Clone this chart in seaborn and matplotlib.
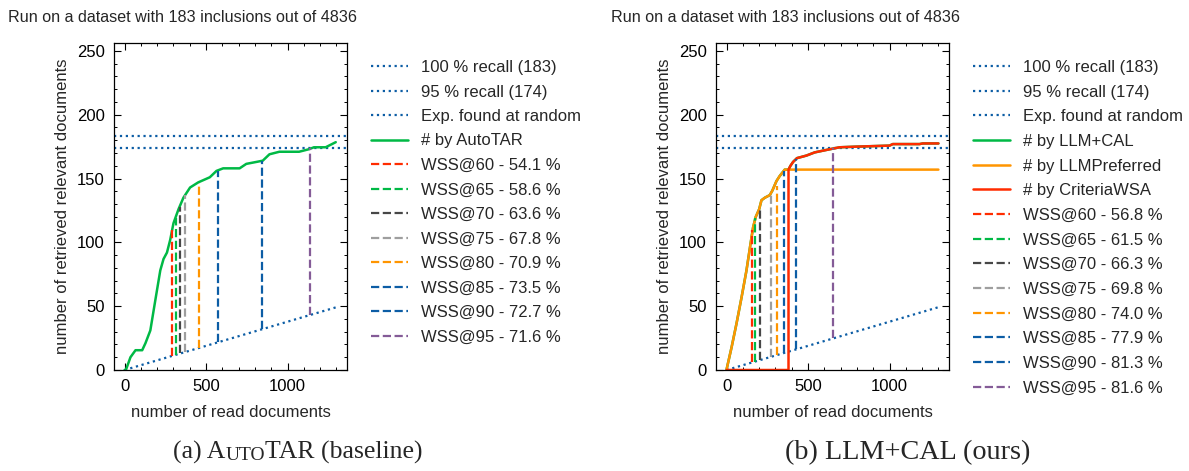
import matplotlib
matplotlib.use("Agg")
import matplotlib.pyplot as plt
import seaborn as sns
from matplotlib.ticker import MultipleLocator

# Data
n_relevant = 183
n_total = 4836
recall_100 = 183
recall_95 = 174

random_x = [0, 1300]
random_y = [0, 49.2]

# (a) AutoTAR baseline
autotar_x = [0, 8, 36, 67, 108, 128, 158, 189, 219, 239, 260, 280, 300, 331, 361, 402,
             452, 523, 564, 605, 706, 747, 808, 848, 889, 950, 1071, 1132, 1162, 1234, 1296]
autotar_y = [0, 0, 10, 15.5, 15.5, 21, 31, 55, 78, 87, 92, 102, 115, 126, 135, 143,
             147, 151, 156, 158, 158, 161.5, 163, 164, 169, 171, 171, 173, 174.5, 174.5, 178.5]

wss_labels_a = ["WSS@60 - 54.1 %", "WSS@65 - 58.6 %", "WSS@70 - 63.6 %", "WSS@75 - 67.8 %",
                "WSS@80 - 70.9 %", "WSS@85 - 73.5 %", "WSS@90 - 72.7 %", "WSS@95 - 71.6 %"]
wss_x_a = [294, 316, 341, 368, 458, 571, 845, 1136]
wss_low_a = [11, 12, 13, 14, 17.3, 21.6, 32, 43]
wss_high_a = [110, 119, 128, 137, 146.5, 156, 164, 174]

# (b) LLM+CAL (ours)
pref_x = [0, 31, 61, 92, 122, 147, 163, 179, 200, 214, 235, 265, 281, 306, 326, 357, 1300]
pref_y = [0.5, 18, 36.5, 57, 78, 99, 112, 120, 126, 133, 135, 137, 140.6, 148, 152, 157, 157]

crit_x = [0, 380, 380, 392, 408, 432, 490, 541, 612, 694, 796, 1000, 1020, 1184, 1204, 1300]
crit_y = [0, 0, 157, 160, 163, 166, 168, 170.5, 172.4, 174.5, 175, 175.8, 177, 177, 177.5, 177.5]

cal_x = [0, 31, 61, 92, 122, 147, 163, 179, 200, 214, 235, 265, 281, 306, 326, 357,
         380, 392, 408, 432, 490, 541, 612, 694, 796, 1000, 1020, 1184, 1204, 1300]
cal_y = [0.5, 18, 36.5, 57, 78, 99, 112, 120, 126, 133, 135, 137, 140.6, 148, 152, 157,
         157, 160, 163, 166, 168, 170.5, 172.4, 174.5, 175, 175.8, 177, 177, 177.5, 177.5]

wss_labels_b = ["WSS@60 - 56.8 %", "WSS@65 - 61.5 %", "WSS@70 - 66.3 %", "WSS@75 - 69.8 %",
                "WSS@80 - 74.0 %", "WSS@85 - 77.9 %", "WSS@90 - 81.3 %", "WSS@95 - 81.6 %"]
wss_x_b = [159, 173, 204, 271, 308, 353, 429, 652]
wss_low_b = [6, 6.5, 7.7, 10.3, 11.7, 13.4, 16.2, 24.7]
wss_high_b = [110, 119, 128, 137, 144, 156, 165, 174]

wss_colors = ["#FF2C00", "#00B945", "#474747", "#9e9e9e", "#FF9500", "#0C5DA5", "#0C5DA5", "#845B97"]
blue = "#0C5DA5"

sns.set_theme(style="ticks")
plt.rcParams['font.family'] = ['Liberation Sans', 'DejaVu Sans']
plt.rcParams['font.size'] = 12
plt.rcParams['axes.linewidth'] = 0.9
plt.rcParams['axes.edgecolor'] = 'black'
for a in ['x', 'y']:
    plt.rcParams[f'{a}tick.direction'] = 'in'
    plt.rcParams[f'{a}tick.major.size'] = 5
    plt.rcParams[f'{a}tick.minor.size'] = 2.5
    plt.rcParams[f'{a}tick.major.width'] = 0.8
    plt.rcParams[f'{a}tick.minor.width'] = 0.7
    plt.rcParams[f'{a}tick.major.pad'] = 6.5
    plt.rcParams[f'{a}tick.color'] = 'black'
    plt.rcParams[f'{a}tick.labelsize'] = 12
plt.rcParams['xtick.top'] = True
plt.rcParams['ytick.right'] = True

fig = plt.figure(figsize=(11.89, 4.71), dpi=100)
W, H = 1189, 471


def setup_panel(left_px):
    ax = fig.add_axes([left_px / W, 101 / H, 233 / W, 327 / H])
    ax.axhline(recall_100, color=blue, ls=':', lw=1.6, label=f"100 % recall ({recall_100})")
    ax.axhline(recall_95, color=blue, ls=':', lw=1.6, label=f"95 % recall ({recall_95})")
    sns.lineplot(x=random_x, y=random_y, ax=ax, color=blue, ls=':', lw=1.6,
                 label="Exp. found at random", estimator=None, sort=False)
    return ax


def finish_panel(ax, legend_px, spacing):
    ax.set_ylim(0, 1.4 * n_relevant)
    ax.set_xlim(-65, 1365)
    ax.xaxis.set_major_locator(MultipleLocator(500))
    ax.xaxis.set_minor_locator(MultipleLocator(100))
    ax.yaxis.set_major_locator(MultipleLocator(50))
    ax.yaxis.set_minor_locator(MultipleLocator(10))
    ax.tick_params(which='both', top=True, right=True, direction='in')
    ax.set_xlabel("number of read documents", fontsize=12, labelpad=8)
    ax.set_ylabel("number of retrieved relevant documents", fontsize=12, labelpad=5)
    ax.legend(loc='upper left', bbox_to_anchor=(legend_px / W, 1 - 60 / H),
              bbox_transform=fig.transFigure, frameon=False, borderaxespad=0,
              borderpad=0, handlelength=2.2, handletextpad=0.8,
              labelspacing=spacing, fontsize=12)


def draw_wss(ax, xs, lows, highs, labels):
    for x, lo, hi, lab, c in zip(xs, lows, highs, labels, wss_colors):
        ax.plot([x, x], [lo, hi], color=c, ls='--', lw=1.6, label=lab)


# panel (a)
ax1 = setup_panel(114)
sns.lineplot(x=autotar_x, y=autotar_y, ax=ax1, color="#00B945", lw=1.8,
             label="# by AutoTAR", estimator=None, sort=False)
draw_wss(ax1, wss_x_a, wss_low_a, wss_high_a, wss_labels_a)
finish_panel(ax1, 371, 0.57)

# panel (b)
ax2 = setup_panel(716)
sns.lineplot(x=cal_x, y=cal_y, ax=ax2, color="#00B945", lw=1.8,
             label="# by LLM+CAL", estimator=None, sort=False)
sns.lineplot(x=pref_x, y=pref_y, ax=ax2, color="#FF9500", lw=1.8,
             label="# by LLMPreferred", estimator=None, sort=False)
sns.lineplot(x=crit_x, y=crit_y, ax=ax2, color="#FF2C00", lw=1.8,
             label="# by CriteriaWSA", estimator=None, sort=False)
draw_wss(ax2, wss_x_b, wss_low_b, wss_high_b, wss_labels_b)
finish_panel(ax2, 973, 0.58)

# titles
title = f"Run on a dataset with {n_relevant} inclusions out of {n_total}"
fig.text(8 / W, 1 - 18 / H, title, fontsize=11.6, va='center', ha='left')
fig.text(611 / W, 1 - 18 / H, title, fontsize=11.6, va='center', ha='left')

# captions (serif, small caps for AutoTAR)
serif = ['Liberation Serif', 'DejaVu Serif']
cap_y = 1 - 459 / H
t1 = fig.text(173 / W, cap_y, "(a) A", fontsize=18.5, family=serif, va='baseline', ha='left')
t2 = plt.annotate("UTO", xy=(1, 0), xycoords=t1, va='bottom', ha='left',
                  fontsize=14, family=serif, annotation_clip=False)
plt.annotate("TAR (baseline)", xy=(1, 0), xycoords=t2, va='bottom', ha='left',
             fontsize=18.5, family=serif, annotation_clip=False)
fig.text(908 / W, cap_y, "(b) LLM+CAL (ours)", fontsize=20.3, family=serif,
         va='baseline', ha='center')

fig.savefig("out.png", dpi=100)
